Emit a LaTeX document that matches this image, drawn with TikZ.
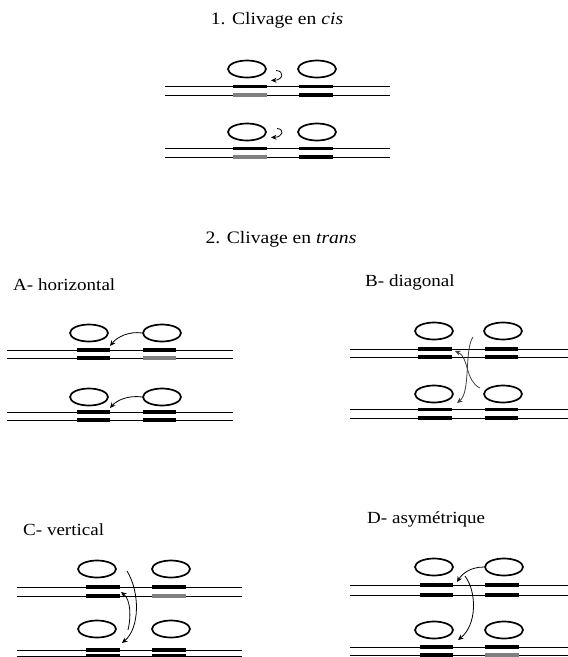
\documentclass[tikz,border=0pt]{standalone}
\usepackage{fontspec}
\usepackage{graphicx}
\setmainfont{Liberation Serif}
\usetikzlibrary{shapes.geometric,arrows.meta}
\begin{document}
\begin{tikzpicture}[x=1pt,y=-1pt,
  strand/.style={line width=0.9pt,black},
  bar/.style={line width=3.6pt,black},
  graybar/.style={line width=3.6pt,black!50},
  ell/.style={ellipse,draw,line width=1.7pt,minimum width=38pt,minimum height=17pt,inner sep=0pt},
  arr/.style={-{Stealth[length=5.5pt,width=5pt]},line width=0.8pt},
  ttl/.style={font=\fontsize{17.5}{20}\selectfont,inner sep=0pt,anchor=base},
  lbl/.style={font=\fontsize{17}{20}\selectfont,inner sep=0pt,anchor=base west}]
\useasboundingbox (0,0) rectangle (568,657);

% ---------- titles ----------
\node[ttl] (t1) at (277,24) {\scalebox{1.12}[1]{1. Clivage en \textit{cis}}};
\node[ttl] (t2) at (281,243) {\scalebox{1.12}[1]{2. Clivage en \textit{trans}}};
\node[lbl] (la) at (13,290) {\scalebox{1.12}[1]{A- horizontal}};
\node[lbl] (lb) at (365,286) {\scalebox{1.12}[1]{B- diagonal}};
\node[lbl] (lc) at (23,535) {\scalebox{1.12}[1]{C- vertical}};
\node[lbl] (ld) at (367,523) {\scalebox{1.12}[1]{D- asymétrique}};

% ---------- 1. cis ----------
\draw[strand] (165,86.5) -- (390,86.5);
\draw[strand] (165,95) -- (390,95);
\draw[bar] (233,86.5) -- (267,86.5);
\draw[graybar] (233,95) -- (267,95);
\draw[bar] (299,86.5) -- (333,86.5);
\draw[bar] (299,95) -- (333,95);
\node[ell] (c1a) at (247,69) {};
\node[ell] (c1b) at (317,69) {};
\coordinate (c1s) at (276,70.5);
\coordinate (c1e) at (271,80.5);
\draw[arr] (c1s) .. controls (285,71) and (283,80) .. (c1e);

\draw[strand] (165,148.5) -- (390,148.5);
\draw[strand] (165,157) -- (390,157);
\draw[bar] (233,148.5) -- (267,148.5);
\draw[graybar] (233,157) -- (267,157);
\draw[bar] (299,148.5) -- (333,148.5);
\draw[bar] (299,157) -- (333,157);
\node[ell] (c2a) at (247,132) {};
\node[ell] (c2b) at (317,132) {};
\coordinate (c2s) at (277,128.5);
\coordinate (c2e) at (271,137.5);
\draw[arr] (c2s) .. controls (285,129) and (283,137) .. (c2e);

% ---------- A horizontal ----------
\draw[strand] (7,350) -- (233,350);
\draw[strand] (7,358) -- (233,358);
\draw[bar] (77,350) -- (110,350);
\draw[bar] (77,358) -- (110,358);
\draw[bar] (143,350) -- (176,350);
\draw[graybar] (143,358) -- (176,358);
\node[ell] (a1a) at (89,333) {};
\node[ell] (a1b) at (162,333) {};
\coordinate (a1e) at (110,346);
\draw[arr] (a1b.west) .. controls (129,331) and (117,337) .. (a1e);

\draw[strand] (7,412) -- (233,412);
\draw[strand] (7,420) -- (233,420);
\draw[bar] (77,412) -- (110,412);
\draw[bar] (77,420) -- (110,420);
\draw[bar] (143,412) -- (176,412);
\draw[bar] (143,420) -- (176,420);
\node[ell] (a2a) at (89,397) {};
\node[ell] (a2b) at (162,397) {};
\coordinate (a2e) at (110,408);
\draw[arr] (a2b.west) .. controls (129,395) and (117,400) .. (a2e);

% ---------- B diagonal ----------
\draw[strand] (350,349) -- (568,349);
\draw[strand] (350,357) -- (568,357);
\draw[bar] (418,349) -- (452,349);
\draw[bar] (418,357) -- (452,357);
\draw[bar] (485,349) -- (518,349);
\draw[bar] (485,357) -- (518,357);
\node[ell] (b1a) at (434,331) {};
\node[ell] (b1b) at (503,331) {};

\draw[strand] (350,409.5) -- (568,409.5);
\draw[strand] (350,418) -- (568,418);
\draw[bar] (418,409.5) -- (452,409.5);
\draw[bar] (418,418) -- (452,418);
\draw[bar] (485,409.5) -- (518,409.5);
\draw[bar] (485,418) -- (518,418);
\node[ell] (b2a) at (434,394) {};
\node[ell] (b2b) at (503,394) {};

\coordinate (bs1) at (473,337);
\coordinate (be1) at (457,403);
\coordinate (bs2) at (480,388);
\coordinate (be2) at (455,351);
\draw[arr,black!75] (bs1) .. controls (464,350) and (471,392) .. (be1);
\draw[arr,black!75] (bs2) .. controls (465,381) and (469,357) .. (be2);

% ---------- C vertical ----------
\draw[strand] (17,587) -- (242,587);
\draw[strand] (17,596) -- (242,596);
\draw[bar] (86,587) -- (120,587);
\draw[bar] (86,596) -- (120,596);
\draw[bar] (152,587) -- (186,587);
\draw[graybar] (152,596) -- (186,596);
\node[ell] (cu1) at (97,569) {};
\node[ell] (cu2) at (171,569) {};

\draw[strand] (17,650) -- (242,650);
\draw[strand] (17,656) -- (242,656);
\draw[bar] (86,650) -- (120,650);
\draw[bar] (86,656) -- (120,656);
\draw[bar] (152,650) -- (186,650);
\draw[bar] (152,656) -- (186,656);
\node[ell] (cl1) at (97,629) {};
\node[ell] (cl2) at (171,629) {};

\coordinate (cs1) at (127,571);
\coordinate (ce1) at (122,643);
\coordinate (cs2) at (128,630);
\coordinate (ce2) at (121,592);
\draw[arr] (cs1) .. controls (140,592) and (140,628) .. (ce1);
\draw[arr] (cs2) .. controls (131,618) and (131,600) .. (ce2);

% ---------- D asymetrique ----------
\draw[strand] (350,585) -- (568,585);
\draw[strand] (350,595) -- (568,595);
\draw[bar] (420,585) -- (453,585);
\draw[bar] (420,595) -- (453,595);
\draw[bar] (485,585) -- (519,585);
\draw[bar] (485,595) -- (519,595);
\node[ell] (du1) at (434,567) {};
\node[ell] (du2) at (504,567) {};

\draw[strand] (350,647) -- (568,647);
\draw[strand] (350,655) -- (568,655);
\draw[bar] (420,647) -- (453,647);
\draw[bar] (420,655) -- (453,655);
\draw[bar] (485,647) -- (519,647);
\draw[graybar] (485,655) -- (519,655);
\node[ell] (dl1) at (434,630) {};
\node[ell] (dl2) at (504,630) {};

\coordinate (de1) at (457,582);
\coordinate (ds2) at (465,576);
\coordinate (de2) at (458,640);
\draw[arr] (du2.west) .. controls (470,567) and (462,574) .. (de1);
\draw[arr] (ds2) .. controls (477,592) and (477,625) .. (de2);
\end{tikzpicture}
\end{document}
